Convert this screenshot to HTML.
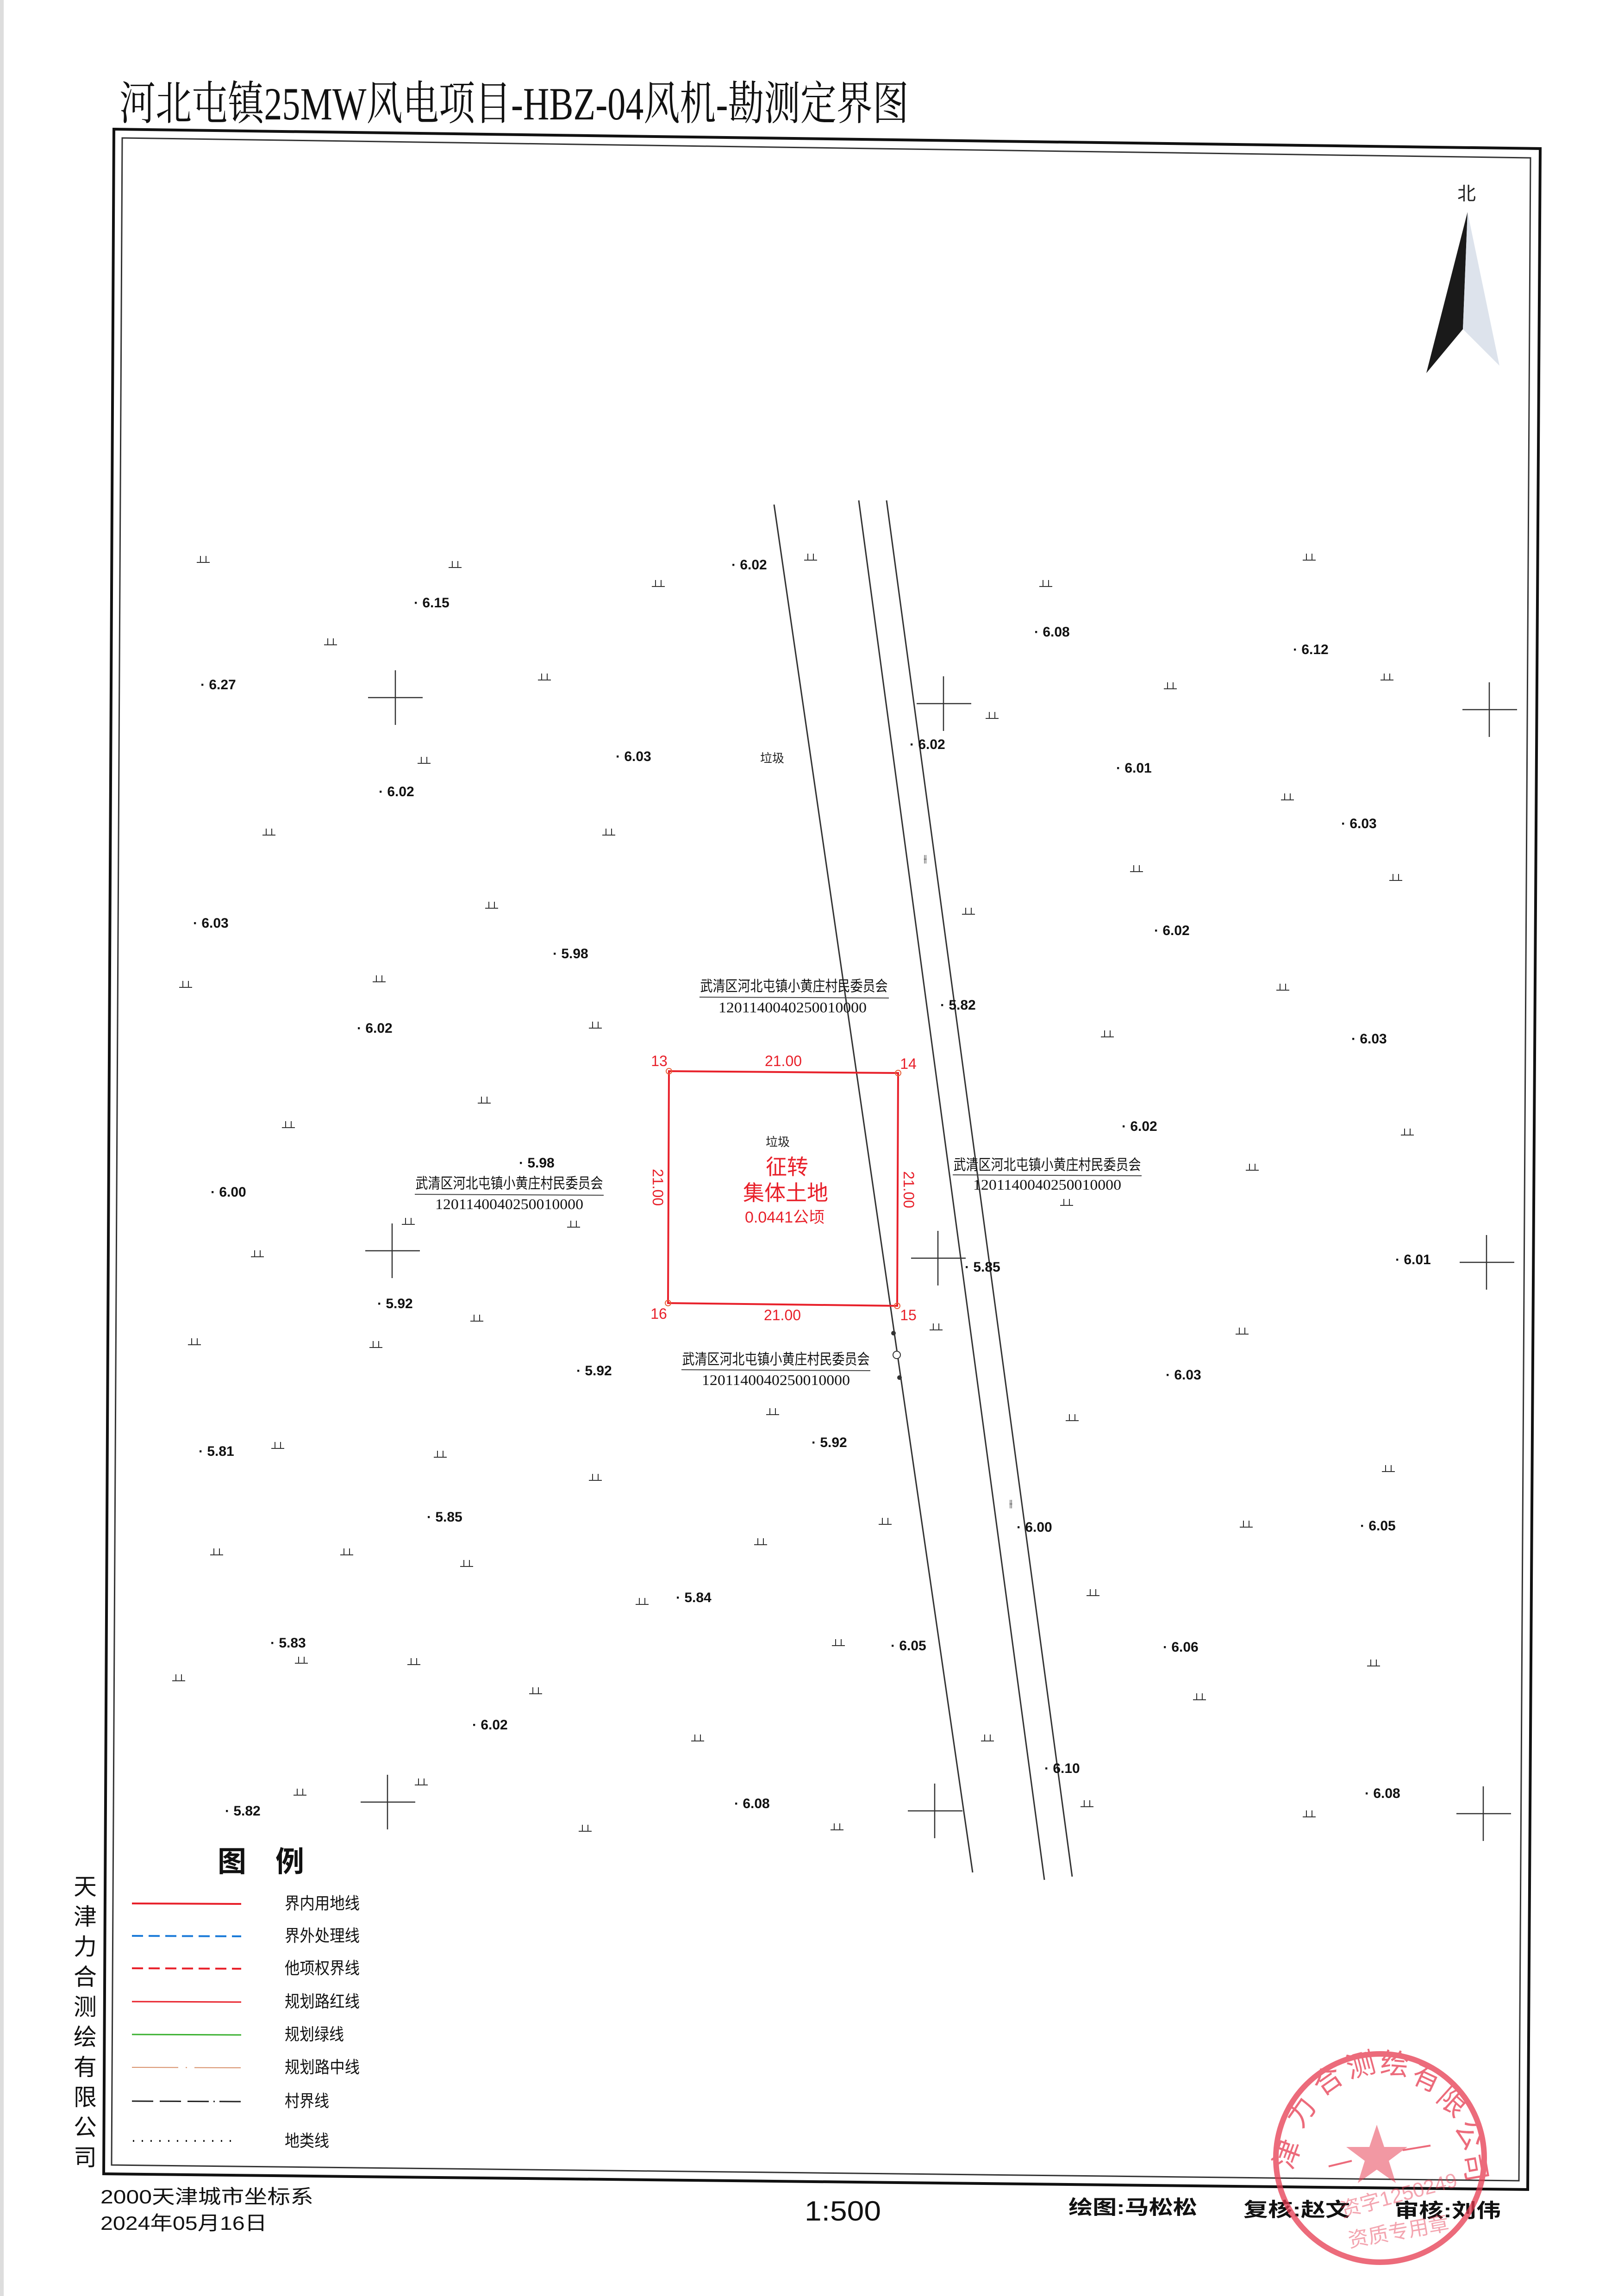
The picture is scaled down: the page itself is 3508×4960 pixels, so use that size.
<!DOCTYPE html>
<html><head><meta charset="utf-8"><style>
html,body{margin:0;padding:0;background:#fff;}
svg{display:block;}
text{font-family:"Liberation Sans","Noto Sans CJK SC",sans-serif;}
.s{font-family:"Liberation Serif","Noto Serif CJK SC",serif;}
.e{font-size:30px;font-weight:bold;fill:#111;}
</style></head><body>
<svg width="3508" height="4960" viewBox="0 0 3508 4960" xmlns="http://www.w3.org/2000/svg">
<rect width="3508" height="4960" fill="#fff"/>
<rect x="0" y="0" width="8" height="4960" fill="#ddd"/>
<!-- title -->
<text class="s" x="258" y="258" font-size="100" textLength="1705" lengthAdjust="spacingAndGlyphs" fill="#111">河北屯镇25MW风电项目-HBZ-04风机-勘测定界图</text>
<!-- frames -->
<polygon points="246,279 3327,321 3300,4730 224,4696" fill="none" stroke="#111" stroke-width="6"/>
<polygon points="264,298 3306,341 3281,4711 241,4677" fill="none" stroke="#333" stroke-width="3"/>
<!-- north arrow -->
<text x="3168" y="432" font-size="40" text-anchor="middle" fill="#222">北</text>
<polygon points="3170,458 3160,711 3081,806" fill="#1a1a1a"/>
<polygon points="3170,458 3160,711 3239,790" fill="#dde3ec"/>
<!-- roads -->
<g stroke="#333" stroke-width="3">
<line x1="1672" y1="1090" x2="2101" y2="4045"/>
<line x1="1855" y1="1081" x2="2256" y2="4061"/>
<line x1="1915" y1="1081" x2="2316" y2="4054"/>
</g>
<g fill="#333"><circle cx="1930" cy="2880" r="5"/><circle cx="1943" cy="2976" r="5"/></g>
<circle cx="1937" cy="2927" r="8" fill="#fff" stroke="#333" stroke-width="2"/>
<text x="1995" y="1862" font-size="22" fill="#333">⫲</text>
<text x="2180" y="3255" font-size="22" fill="#333">⫲</text>
<!-- crosses -->
<g stroke="#333" stroke-width="2.5" fill="none">
<path d="M795,1507h118M854,1448v118"/>
<path d="M1980,1520h118M2038,1461v118"/>
<path d="M3159,1533h118M3217,1474v118"/>
<path d="M789,2702h118M847,2643v118"/>
<path d="M1968,2718h118M2026,2659v118"/>
<path d="M3153,2727h118M3211,2668v118"/>
<path d="M779,3893h118M837,3834v118"/>
<path d="M1961,3912h118M2019,3853v118"/>
<path d="M3146,3918h118M3204,3859v118"/>
</g>
<!-- grass symbols -->
<g stroke="#333" stroke-width="2" fill="none">
<path id="gs" d="M-14,0h28M-6,0v-14M6,0v-14" transform="translate(439,1215)"/>
</g>
<g stroke="#333" stroke-width="2" fill="none">
<use href="#gs" x="544" y="11"/><use href="#gs" x="983" y="52"/><use href="#gs" x="1312" y="-5"/>
<use href="#gs" x="1820" y="52"/><use href="#gs" x="2389" y="-5"/><use href="#gs" x="275" y="178"/>
<use href="#gs" x="737" y="254"/><use href="#gs" x="477" y="434"/><use href="#gs" x="1704" y="337"/>
<use href="#gs" x="2089" y="273"/><use href="#gs" x="2557" y="254"/><use href="#gs" x="142" y="589"/>
<use href="#gs" x="876" y="589"/><use href="#gs" x="2342" y="513"/><use href="#gs" x="2016" y="668"/>
<use href="#gs" x="2576" y="687"/><use href="#gs" x="623" y="747"/><use href="#gs" x="1653" y="760"/>
<use href="#gs" x="380" y="906"/><use href="#gs" x="-38" y="918"/><use href="#gs" x="2332" y="924"/>
<use href="#gs" x="847" y="1006"/><use href="#gs" x="1953" y="1025"/><use href="#gs" x="607" y="1168"/>
<use href="#gs" x="184" y="1221"/><use href="#gs" x="2601" y="1237"/><use href="#gs" x="2266" y="1313"/>
<use href="#gs" x="1865" y="1389"/><use href="#gs" x="443" y="1430"/><use href="#gs" x="800" y="1436"/>
<use href="#gs" x="117" y="1500"/><use href="#gs" x="591" y="1639"/><use href="#gs" x="1583" y="1658"/>
<use href="#gs" x="373" y="1696"/><use href="#gs" x="-19" y="1690"/><use href="#gs" x="2244" y="1667"/>
<use href="#gs" x="1230" y="1841"/><use href="#gs" x="1877" y="1854"/><use href="#gs" x="161" y="1914"/>
<use href="#gs" x="512" y="1933"/><use href="#gs" x="2560" y="1964"/><use href="#gs" x="847" y="1983"/>
<use href="#gs" x="1204" y="2122"/><use href="#gs" x="1473" y="2078"/><use href="#gs" x="2253" y="2084"/>
<use href="#gs" x="29" y="2144"/><use href="#gs" x="310" y="2144"/><use href="#gs" x="569" y="2169"/>
<use href="#gs" x="948" y="2251"/><use href="#gs" x="1922" y="2232"/><use href="#gs" x="1372" y="2340"/>
<use href="#gs" x="2528" y="2384"/><use href="#gs" x="212" y="2378"/><use href="#gs" x="455" y="2381"/>
<use href="#gs" x="-53" y="2416"/><use href="#gs" x="718" y="2444"/><use href="#gs" x="2152" y="2457"/>
<use href="#gs" x="1068" y="2546"/><use href="#gs" x="1694" y="2546"/><use href="#gs" x="1909" y="2688"/>
<use href="#gs" x="209" y="2663"/><use href="#gs" x="471" y="2641"/><use href="#gs" x="2389" y="2710"/>
<use href="#gs" x="825" y="2741"/><use href="#gs" x="1369" y="2738"/>
</g>
<!-- elevations -->
<g class="e" transform="translate(-20,0)">
<text x="1600" y="1230">· 6.02</text><text x="914" y="1312">· 6.15</text><text x="453" y="1489">· 6.27</text>
<text x="2254" y="1375">· 6.08</text><text x="2813" y="1413">· 6.12</text><text x="1350" y="1644">· 6.03</text>
<text x="1985" y="1618">· 6.02</text><text x="2431" y="1669">· 6.01</text><text x="838" y="1720">· 6.02</text>
<text x="2917" y="1789">· 6.03</text><text x="437" y="2004">· 6.03</text><text x="2513" y="2020">· 6.02</text>
<text x="1214" y="2070">· 5.98</text><text x="2051" y="2181">· 5.82</text><text x="791" y="2231">· 6.02</text>
<text x="2939" y="2254">· 6.03</text><text x="2443" y="2443">· 6.02</text><text x="1141" y="2522">· 5.98</text>
<text x="475" y="2585">· 6.00</text><text x="2104" y="2747">· 5.85</text><text x="3034" y="2731">· 6.01</text>
<text x="835" y="2826">· 5.92</text><text x="1265" y="2971">· 5.92</text><text x="2538" y="2980">· 6.03</text>
<text x="1773" y="3126">· 5.92</text><text x="449" y="3145">· 5.81</text><text x="942" y="3287">· 5.85</text>
<text x="2216" y="3309">· 6.00</text><text x="2958" y="3306">· 6.05</text><text x="1480" y="3461">· 5.84</text>
<text x="604" y="3559">· 5.83</text><text x="1944" y="3565">· 6.05</text><text x="2532" y="3568">· 6.06</text>
<text x="1040" y="3736">· 6.02</text><text x="2276" y="3830">· 6.10</text><text x="1606" y="3906">· 6.08</text>
<text x="2968" y="3884">· 6.08</text><text x="506" y="3922">· 5.82</text>
</g>
<text x="1668" y="1647" font-size="26" text-anchor="middle" fill="#222">垃圾</text>
<!-- red parcel -->
<polygon points="1445,2314 1940,2318 1938,2821 1443,2815" fill="none" stroke="#e8202a" stroke-width="4"/>
<g fill="none" stroke="#e8603a" stroke-width="2"><circle cx="1445" cy="2314" r="6"/><circle cx="1940" cy="2318" r="6"/><circle cx="1938" cy="2821" r="6"/><circle cx="1443" cy="2815" r="6"/></g>
<g class="s" fill="#e8202a" font-size="32" text-anchor="middle">
<text x="1424" y="2303">13</text><text x="1692" y="2303">21.00</text><text x="1962" y="2309">14</text>
<text x="1423" y="2849">16</text><text x="1690" y="2852">21.00</text><text x="1962" y="2852">15</text>
<text transform="translate(1410,2565) rotate(90)">21.00</text>
<text transform="translate(1952,2570) rotate(90)">21.00</text>
</g>
<text x="1680" y="2476" font-size="26" text-anchor="middle" fill="#222">垃圾</text>
<g fill="#e8202a" text-anchor="middle">
<text x="1700" y="2537" font-size="46">征转</text>
<text x="1697" y="2593" font-size="46">集体土地</text>
<text x="1695" y="2641" font-size="34" font-family="Liberation Serif,Noto Serif CJK SC,serif">0.0441公顷</text>
</g>
<!-- owner labels -->
<g fill="#111" text-anchor="middle">
<text x="1715" y="2141" font-size="32" textLength="405" lengthAdjust="spacingAndGlyphs">武清区河北屯镇小黄庄村民委员会</text>
<text class="s" x="1712" y="2187" font-size="32" textLength="320" lengthAdjust="spacingAndGlyphs">1201140040250010000</text>
<text x="1100" y="2567" font-size="32" textLength="405" lengthAdjust="spacingAndGlyphs">武清区河北屯镇小黄庄村民委员会</text>
<text class="s" x="1100" y="2612" font-size="32" textLength="320" lengthAdjust="spacingAndGlyphs">1201140040250010000</text>
<text x="2262" y="2527" font-size="32" textLength="405" lengthAdjust="spacingAndGlyphs">武清区河北屯镇小黄庄村民委员会</text>
<text class="s" x="2262" y="2570" font-size="32" textLength="320" lengthAdjust="spacingAndGlyphs">1201140040250010000</text>
<text x="1676" y="2947" font-size="32" textLength="405" lengthAdjust="spacingAndGlyphs">武清区河北屯镇小黄庄村民委员会</text>
<text class="s" x="1676" y="2992" font-size="32" textLength="320" lengthAdjust="spacingAndGlyphs">1201140040250010000</text>
</g>
<g stroke="#444" stroke-width="2">
<line x1="1511" y1="2154" x2="1920" y2="2156"/>
<line x1="896" y1="2580" x2="1304" y2="2582"/>
<line x1="2058" y1="2538" x2="2466" y2="2540"/>
<line x1="1472" y1="2959" x2="1880" y2="2961"/>
</g>
<!-- legend -->
<text x="470" y="4043" font-size="62" font-weight="bold" fill="#111">图</text>
<text x="595" y="4043" font-size="62" font-weight="bold" fill="#111">例</text>
<g stroke-width="4" fill="none">
<line x1="285" y1="4112" x2="521" y2="4113" stroke="#e8202a"/>
<line x1="285" y1="4182" x2="521" y2="4183" stroke="#1a7ad8" stroke-dasharray="24,12"/>
<line x1="285" y1="4252" x2="521" y2="4253" stroke="#e8202a" stroke-dasharray="24,12"/>
<line x1="285" y1="4324" x2="521" y2="4325" stroke="#e8202a" stroke-width="3"/>
<line x1="285" y1="4395" x2="521" y2="4396" stroke="#3ab030" stroke-width="3"/>
<line x1="285" y1="4466" x2="521" y2="4467" stroke="#d8906a" stroke-width="2" stroke-dasharray="100,16,3,16,100"/>
<line x1="285" y1="4539" x2="521" y2="4540" stroke="#222" stroke-width="3" stroke-dasharray="46,14,46,14,46,10,3,10"/>
<line x1="287" y1="4625" x2="500" y2="4625" stroke="#222" stroke-width="4" stroke-dasharray="3,16"/>
</g>
<g fill="#111" font-size="36">
<text x="615" y="4124" textLength="162" lengthAdjust="spacingAndGlyphs">界内用地线</text>
<text x="615" y="4194" textLength="162" lengthAdjust="spacingAndGlyphs">界外处理线</text>
<text x="615" y="4264" textLength="162" lengthAdjust="spacingAndGlyphs">他项权界线</text>
<text x="615" y="4336" textLength="162" lengthAdjust="spacingAndGlyphs">规划路红线</text>
<text x="615" y="4407" textLength="128" lengthAdjust="spacingAndGlyphs">规划绿线</text>
<text x="615" y="4478" textLength="162" lengthAdjust="spacingAndGlyphs">规划路中线</text>
<text x="615" y="4551" textLength="96" lengthAdjust="spacingAndGlyphs">村界线</text>
<text x="615" y="4637" textLength="96" lengthAdjust="spacingAndGlyphs">地类线</text>
</g>
<!-- company vertical -->
<g fill="#111" font-size="50" text-anchor="middle">
<text x="184" y="4093">天</text><text x="184" y="4158">津</text><text x="184" y="4223">力</text>
<text x="184" y="4288">合</text><text x="184" y="4353">测</text><text x="184" y="4418">绘</text>
<text x="184" y="4483">有</text><text x="184" y="4548">限</text><text x="184" y="4613">公</text>
<text x="184" y="4678">司</text>
</g>
<!-- footer -->
<g fill="#111" font-size="42">
<text x="217" y="4760" textLength="460" lengthAdjust="spacingAndGlyphs">2000天津城市坐标系</text>
<text x="217" y="4817" textLength="360" lengthAdjust="spacingAndGlyphs">2024年05月16日</text>
<text x="1738" y="4797" font-size="60" textLength="165" lengthAdjust="spacingAndGlyphs">1:500</text>
<text x="2308" y="4783" font-weight="bold" textLength="278" lengthAdjust="spacingAndGlyphs">绘图:马松松</text>
<text x="2686" y="4788" font-weight="bold" textLength="230" lengthAdjust="spacingAndGlyphs">复核:赵文</text>
<text x="3012" y="4790" font-weight="bold" textLength="230" lengthAdjust="spacingAndGlyphs">审核:刘伟</text>
</g>
<!-- stamp -->
<g opacity="0.75" fill="#e63a50" stroke="#e63a50">
<circle cx="2981" cy="4662" r="225" fill="none" stroke-width="12"/>
<polygon points="2974,4590 2990,4638 3040,4638 3000,4668 3015,4716 2974,4687 2933,4716 2948,4668 2908,4638 2958,4638" stroke="none" opacity="0.7"/>
<line x1="2870" y1="4680" x2="2920" y2="4668" stroke-width="4"/>
<line x1="3030" y1="4645" x2="3090" y2="4635" stroke-width="4"/>
<g stroke="none" font-size="62">
<text x="2790" y="4690" transform="rotate(-70 2790 4690)">津</text>
<text x="2810" y="4600" transform="rotate(-55 2810 4600)">力</text>
<text x="2855" y="4530" transform="rotate(-35 2855 4530)">合</text>
<text x="2915" y="4490" transform="rotate(-15 2915 4490)">测</text>
<text x="2980" y="4478" transform="rotate(5 2980 4478)">绘</text>
<text x="3045" y="4495" transform="rotate(25 3045 4495)">有</text>
<text x="3100" y="4535" transform="rotate(42 3100 4535)">限</text>
<text x="3140" y="4595" transform="rotate(60 3140 4595)">公</text>
<text x="3160" y="4655" transform="rotate(80 3160 4655)">司</text>
<text x="2900" y="4790" font-size="44" opacity="0.6" transform="rotate(-15 2900 4790)">资字1250249</text>
<text x="2915" y="4855" font-size="44" opacity="0.6" transform="rotate(-10 2915 4855)">资质专用章</text>
</g>
</g>
</svg>
</body></html>
